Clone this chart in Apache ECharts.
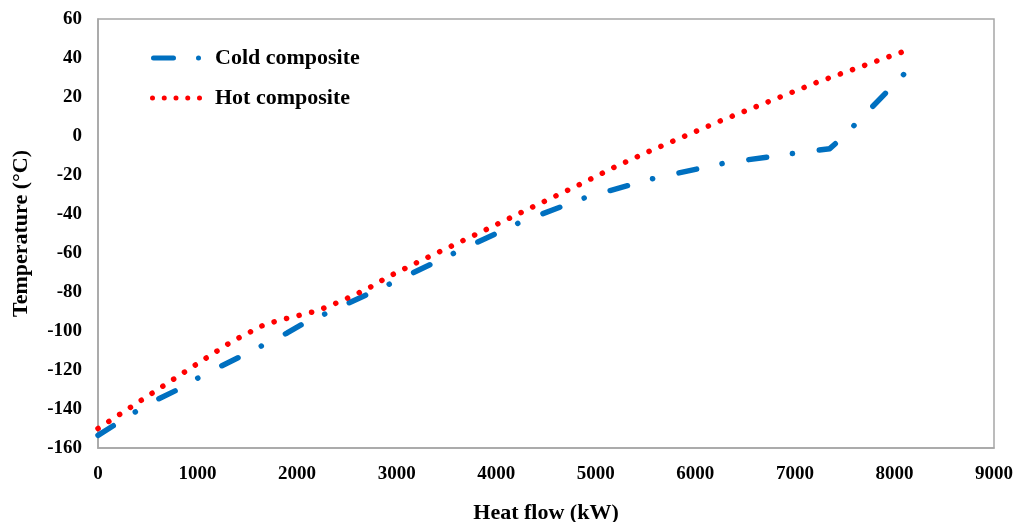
<!DOCTYPE html>
<html>
<head>
<meta charset="utf-8">
<script src="https://cdn.jsdelivr.net/npm/echarts@6/dist/echarts.min.js"></script>
<style>
  html, body { margin: 0; padding: 0; background: #fff; }
  #chart { width: 1017px; height: 522px; }
</style>
</head>
<body>
<div id="chart"></div>
<script>
let xTicks = [0, 1000, 2000, 3000, 4000, 5000, 6000, 7000, 8000, 9000]
let yTicks = [-160, -140, -120, -100, -80, -60, -40, -20, 0, 20, 40, 60]

let coldFlow = [0, 390, 600, 820, 1020, 1245, 1445, 1680, 1900, 2070, 2300, 2950, 3600, 4250, 4910, 5600, 6300, 7020, 7350, 7450, 7620, 8120]
let coldTemp = [-153.5, -141, -135, -129.6, -123.6, -117.8, -112.8, -106.7, -101, -96, -90.8, -75.4, -59.5, -44, -31.3, -21.5, -13.8, -8.7, -6.5, -2, 6.7, 33]

let hotFlow = [0, 450, 900, 1340, 1680, 1900, 2200, 2450, 2700, 2910, 3300, 3870, 4340, 4810, 5170, 5520, 6250, 7230, 8100]
let hotTemp = [-150, -135, -120, -105.5, -96.5, -93.5, -89.7, -84.5, -78.5, -72.3, -62.5, -48.7, -37, -25.6, -16.4, -8.2, 7.7, 27.7, 43.5]

let seriesNames = ['Cold composite', 'Hot composite']

let font = '"Liberation Serif", "Times New Roman", serif'
let axisGray = '#A6A6A6'

// legend glyphs: a dash and a dot, and a row of five dots
let coldIcon = 'path://M2.5,0 H22.5 A2.5,2.5 0 0 1 22.5,5 H2.5 A2.5,2.5 0 0 1 2.5,0 Z ' +
  'M45,2.5 A2.5,2.5 0 1 1 50,2.5 A2.5,2.5 0 1 1 45,2.5 Z'
let hotIcon = 'path://' + [2.5, 14.25, 26, 37.75, 49.5].map(c =>
  `M${c - 2.5},2.5 A2.5,2.5 0 1 1 ${c + 2.5},2.5 A2.5,2.5 0 1 1 ${c - 2.5},2.5 Z`).join(' ')

function pairs(xs, ys) {
  return xs.map((x, i) => [x, ys[i]])
}

let chart = echarts.init(document.getElementById('chart'))

chart.setOption({
  animation: false,
  grid: {
    left: 98, top: 19, right: 23, bottom: 74,
    outerBoundsMode: 'none',
    containLabel: false,
    show: true, borderColor: axisGray, borderWidth: 1.5
  },
  legend: {
    left: 150, top: 47,
    padding: 0,
    orient: 'vertical',
    itemGap: 18,
    itemWidth: 52,
    itemHeight: 5,
    data: [
      { name: seriesNames[0], icon: coldIcon },
      { name: seriesNames[1], icon: hotIcon }
    ],
    textStyle: { fontFamily: font, fontWeight: 'bold', fontSize: 22, color: '#000', padding: [0, 0, 0, 8] }
  },
  xAxis: {
    type: 'value',
    min: xTicks[0], max: xTicks[xTicks.length - 1], interval: 1000,
    name: 'Heat flow (kW)',
    nameLocation: 'middle',
    nameGap: 54,
    nameTextStyle: { fontFamily: font, fontWeight: 'bold', fontSize: 22, color: '#000' },
    axisLine: { show: true, onZero: false, lineStyle: { color: axisGray, width: 1.5 } },
    axisTick: { show: false },
    splitLine: { show: false },
    axisLabel: {
      fontFamily: font, fontWeight: 'bold', fontSize: 19, color: '#000', margin: 17,
      formatter: v => String(v)
    }
  },
  yAxis: {
    type: 'value',
    min: yTicks[0], max: yTicks[yTicks.length - 1], interval: 20,
    name: 'Temperature (°C)',
    nameLocation: 'middle',
    nameGap: 66,
    nameRotate: 90,
    nameTextStyle: { fontFamily: font, fontWeight: 'bold', fontSize: 22, color: '#000' },
    axisLine: { show: true, onZero: false, lineStyle: { color: axisGray, width: 1.5 } },
    axisTick: { show: false },
    splitLine: { show: false },
    axisLabel: {
      fontFamily: font, fontWeight: 'bold', fontSize: 19, color: '#000', margin: 16,
      formatter: v => String(v)
    }
  },
  series: [
    {
      name: seriesNames[0],
      type: 'line',
      data: pairs(coldFlow, coldTemp),
      showSymbol: false,
      symbol: 'none',
      color: '#0070C0',
      lineStyle: { color: '#0070C0', width: 5.5, type: [18, 26, 0.1, 27], cap: 'round', join: 'round' }
    },
    {
      name: seriesNames[1],
      type: 'line',
      data: pairs(hotFlow, hotTemp),
      showSymbol: false,
      symbol: 'none',
      color: '#FF0000',
      lineStyle: { color: '#FF0000', width: 5.5, type: [0.1, 12.8], cap: 'round', join: 'round' }
    }
  ]
})
</script>
</body>
</html>
